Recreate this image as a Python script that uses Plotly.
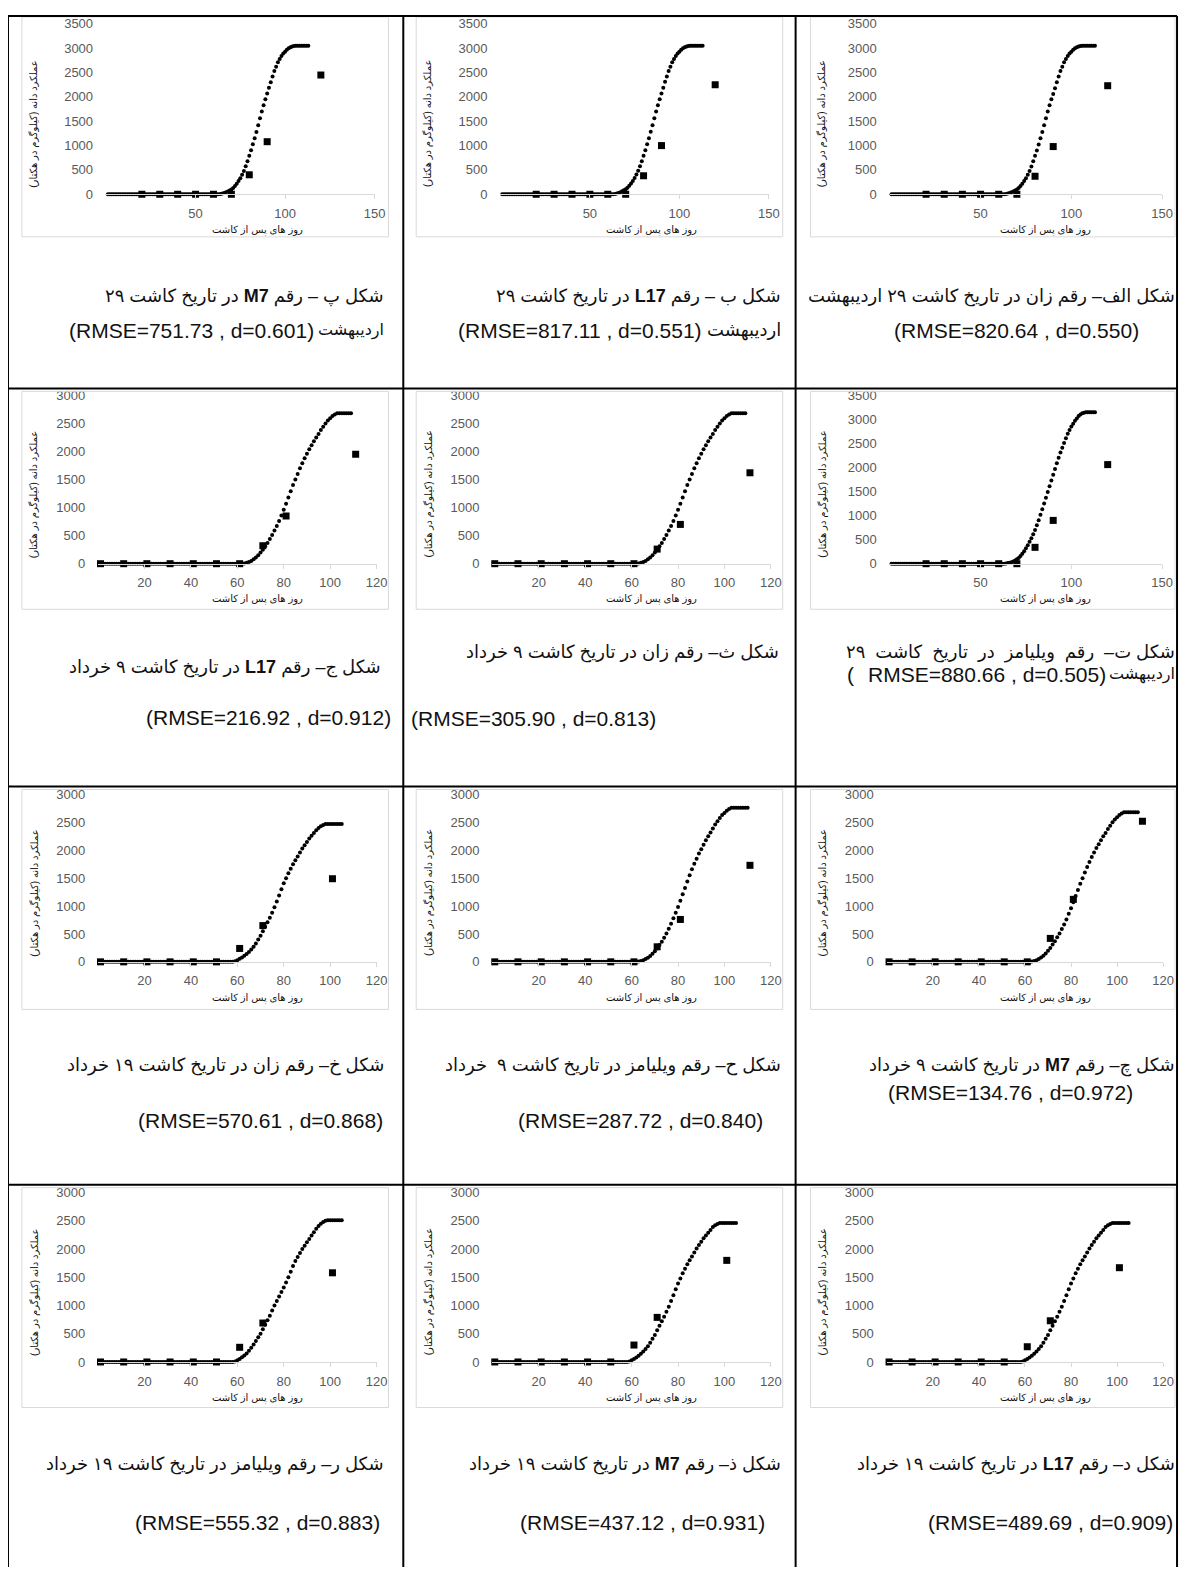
import plotly.graph_objects as go

# ---------------- data ----------------
days_obs_29ord = [20, 30, 40, 50, 60, 70, 80, 90, 120]
days_obs_9kh = [1, 11, 21, 31, 41, 51, 61, 71, 81, 111]
days_obs_19kh = [1, 11, 21, 31, 41, 51, 61, 71, 101]

obs_alef = [0, 0, 0, 0, 0, 0, 370, 980, 2230]
obs_be = [0, 0, 0, 0, 0, 0, 380, 1000, 2250]
obs_pe = [0, 0, 0, 0, 0, 0, 400, 1080, 2450]
obs_te = [0, 0, 0, 0, 0, 0, 340, 900, 2060]
obs_se = [0, 0, 0, 0, 0, 0, 0, 260, 700, 1620]
obs_jim = [0, 0, 0, 0, 0, 0, 0, 320, 850, 1950]
obs_che = [0, 0, 0, 0, 0, 0, 0, 420, 1120, 2520]
obs_he = [0, 0, 0, 0, 0, 0, 0, 270, 760, 1730]
obs_khe = [0, 0, 0, 0, 0, 0, 240, 650, 1490]
obs_dal = [0, 0, 0, 0, 0, 0, 270, 730, 1670]
obs_zal = [0, 0, 0, 0, 0, 0, 300, 790, 1800]
obs_re = [0, 0, 0, 0, 0, 0, 260, 690, 1580]

# simulated grain yield, one value per day from day 1
sim_alef = [0] * 62 + [0, 5, 15, 25, 40, 55, 75, 100, 130, 170, 215, 270, 330, 400, 480, 570, 680, 790, 900, 1020,
                       1150, 1280, 1420, 1560, 1700, 1830, 1950, 2060, 2180, 2300, 2420, 2530, 2620, 2710, 2780, 2840,
                       2890, 2930, 2970, 3000, 3020, 3035, 3045, 3050, 3050, 3050, 3050, 3050, 3050, 3050, 3050]
sim_be = [0] * 62 + [0, 5, 15, 25, 40, 60, 80, 105, 135, 175, 220, 275, 335, 405, 485, 575, 680, 790, 905, 1025,
                     1150, 1285, 1420, 1560, 1700, 1830, 1950, 2070, 2190, 2310, 2420, 2530, 2620, 2710, 2780, 2840,
                     2890, 2930, 2970, 3000, 3020, 3035, 3045, 3050, 3050, 3050, 3050, 3050, 3050, 3050, 3050]
sim_pe = [0] * 62 + [0, 5, 15, 25, 40, 55, 75, 100, 130, 170, 215, 270, 330, 400, 480, 575, 680, 790, 905, 1025,
                     1150, 1280, 1420, 1560, 1700, 1830, 1950, 2070, 2190, 2300, 2420, 2530, 2620, 2710, 2780, 2840,
                     2890, 2930, 2970, 3000, 3020, 3035, 3045, 3050, 3050, 3050, 3050, 3050, 3050, 3050, 3050]
sim_te = [0] * 62 + [0, 5, 12, 20, 30, 45, 65, 90, 120, 160, 205, 260, 320, 385, 455, 530, 610, 700, 800, 905,
                     1015, 1130, 1250, 1370, 1490, 1610, 1730, 1850, 1970, 2090, 2200, 2310, 2410, 2510, 2610, 2700,
                     2780, 2850, 2910, 2970, 3020, 3070, 3100, 3125, 3140, 3150, 3150, 3150, 3150, 3150, 3150]
sim_se = [0] * 61 + [0, 5, 15, 30, 50, 80, 110, 150, 200, 250, 310, 370, 440, 510, 590, 670, 760, 860, 960, 1070,
                     1180, 1290, 1400, 1500, 1600, 1700, 1790, 1880, 1960, 2040, 2110, 2180, 2250, 2310, 2380, 2440,
                     2500, 2550, 2590, 2630, 2660, 2680, 2680, 2680, 2680, 2680, 2680, 2680]
sim_jim = [0] * 61 + [0, 5, 15, 30, 50, 80, 110, 150, 200, 250, 310, 370, 440, 510, 590, 670, 760, 860, 960, 1070,
                      1180, 1290, 1400, 1500, 1600, 1700, 1790, 1880, 1960, 2040, 2110, 2180, 2250, 2310, 2380, 2440,
                      2500, 2550, 2590, 2630, 2660, 2680, 2680, 2680, 2680, 2680, 2680, 2680]
sim_che = [0] * 61 + [0, 5, 15, 30, 50, 80, 110, 150, 200, 250, 310, 370, 440, 510, 590, 670, 760, 860, 960, 1070,
                      1180, 1290, 1400, 1500, 1600, 1700, 1790, 1880, 1960, 2040, 2110, 2180, 2250, 2310, 2380, 2440,
                      2500, 2550, 2590, 2630, 2660, 2680, 2680, 2680, 2680, 2680, 2680, 2680]
sim_he = [0] * 61 + [0, 5, 15, 30, 50, 75, 105, 145, 190, 240, 300, 360, 430, 510, 595, 685, 780, 880, 985, 1095,
                     1210, 1325, 1440, 1550, 1660, 1760, 1850, 1940, 2020, 2100, 2180, 2250, 2320, 2390, 2460, 2520,
                     2580, 2630, 2670, 2710, 2740, 2760, 2760, 2760, 2760, 2760, 2760, 2760, 2760]
sim_khe = [0] * 57 + [0, 10, 30, 55, 80, 110, 140, 176, 220, 270, 330, 400, 470, 550, 630, 710, 790, 880, 980, 1080,
                      1190, 1300, 1410, 1500, 1590, 1670, 1750, 1820, 1890, 1960, 2030, 2090, 2150, 2210, 2260, 2310,
                      2360, 2400, 2430, 2455, 2470, 2470, 2470, 2470, 2470, 2470, 2470, 2470]
sim_dal = [0] * 57 + [0, 10, 30, 55, 80, 110, 145, 185, 230, 280, 340, 410, 480, 560, 640, 720, 800, 890, 980, 1080,
                      1180, 1290, 1390, 1480, 1570, 1650, 1730, 1800, 1870, 1940, 2010, 2070, 2130, 2190, 2240, 2290,
                      2340, 2390, 2420, 2445, 2460, 2460, 2460, 2460, 2460, 2460, 2460, 2460]
sim_zal = [0] * 57 + [0, 10, 30, 55, 80, 110, 145, 185, 230, 280, 340, 410, 480, 560, 640, 720, 800, 890, 980, 1080,
                      1180, 1290, 1390, 1480, 1570, 1650, 1730, 1800, 1870, 1940, 2010, 2070, 2130, 2190, 2240, 2290,
                      2340, 2390, 2420, 2445, 2460, 2460, 2460, 2460, 2460, 2460, 2460, 2460]
sim_re = [0] * 57 + [0, 10, 30, 55, 85, 115, 150, 200, 250, 310, 370, 440, 500, 580, 660, 740, 820, 910, 1000, 1080,
                     1160, 1240, 1320, 1410, 1500, 1600, 1700, 1790, 1860, 1930, 2000, 2060, 2120, 2180, 2240, 2300,
                     2360, 2410, 2450, 2480, 2500, 2510, 2510, 2510, 2510, 2510, 2510, 2510]

ticks_150 = [50, 100, 150]
ticks_120 = [20, 40, 60, 80, 100, 120]
y_title = "عملکرد دانه (کیلوگرم در هکتار)"
x_title = "روز های پس از کاشت"

NB = "\u00a0"
# caption texts
cap_alef = ["شکل الف– رقم زان در تاریخ کاشت ۲۹ اردیبهشت", "(RMSE=820.64 , d=0.550)"]
cap_be = ["شکل ب – رقم <b>L17</b> در تاریخ کاشت ۲۹", "اردیبهشت", "(RMSE=817.11 , d=0.551)"]
cap_pe = ["شکل پ – رقم <b>M7</b> در تاریخ کاشت ۲۹", "اردیبهشت", "(RMSE=751.73 , d=0.601)"]
cap_te = [NB.join(["شکل", "ت–", NB + "رقم", NB + "ویلیامز", NB + "در", NB + "تاریخ", NB + "کاشت", NB + "۲۹"]),
          "اردیبهشت", "(", "RMSE=880.66 , d=0.505)"]
cap_se = ["شکل ث– رقم زان در تاریخ کاشت ۹ خرداد", "(RMSE=305.90 , d=0.813)"]
cap_jim = ["شکل ج– رقم <b>L17</b> در تاریخ کاشت ۹ خرداد", "(RMSE=216.92 , d=0.912)"]
cap_che = ["شکل چ– رقم <b>M7</b> در تاریخ کاشت ۹ خرداد", "(RMSE=134.76 , d=0.972)"]
cap_he = ["شکل ح– رقم ویلیامز در تاریخ کاشت ۹" + NB + " خرداد", "(RMSE=287.72 , d=0.840)"]
cap_khe = ["شکل خ– رقم زان در تاریخ کاشت ۱۹ خرداد", "(RMSE=570.61 , d=0.868)"]
cap_dal = ["شکل د– رقم <b>L17</b> در تاریخ کاشت ۱۹ خرداد", "(RMSE=489.69 , d=0.909)"]
cap_zal = ["شکل ذ– رقم <b>M7</b> در تاریخ کاشت ۱۹ خرداد", "(RMSE=437.12 , d=0.931)"]
cap_re = ["شکل ر– رقم ویلیامز در تاریخ کاشت ۱۹ خرداد", "(RMSE=555.32 , d=0.883)"]

# ---------------- layout geometry (page pixels) ----------------
PAGE_W, PAGE_H = 1192, 1575
OFF = 8                      # default body margin of the html page
W, H = PAGE_W - OFF, PAGE_H - OFF
ROW_PLOT_Y = [(17, 189), (392, 562), (795, 964), (1197, 1368)]
ROW_AREA_Y = [(10, 232), (388, 608), (790, 1012), (1192, 1414)]
COL_AREA_X = {"L": (22, 392), "M": (420, 790), "R": (818, 1186)}
COL_PLOT_X = {150: {"L": (107, 378), "M": (505, 776), "R": (898, 1173)},
              120: {"L": (99, 380), "M": (497, 778), "R": (895, 1174)}}
V_LINES = [8, 407, 803, 1188]
H_LINES = [9, 385, 787, 1189]

FA = "Liberation Sans, DejaVu Sans"
EN = "Liberation Sans"
FA_SIZE = 18
EN_SIZE = 21
TICK_SIZE = 13


def rtl(s):
    return "\u202b" + s + "\u202c"


# caption items: (text, x, y, xanchor, rtl?, size)
charts = [
    dict(col="R", row=0, xmax=150, ymax=3500, sim=sim_alef, od=days_obs_29ord, ob=obs_alef,
         cap=[(cap_alef[0], 1188, 292, "right", True, FA_SIZE),
              (cap_alef[1], 1026, 327, "center", False, EN_SIZE)]),
    dict(col="M", row=0, xmax=150, ymax=3500, sim=sim_be, od=days_obs_29ord, ob=obs_be,
         cap=[(cap_be[0], 790, 292, "right", True, FA_SIZE), (cap_be[1], 790, 327, "right", True, FA_SIZE),
              (cap_be[2], 460, 327, "left", False, EN_SIZE)]),
    dict(col="L", row=0, xmax=150, ymax=3500, sim=sim_pe, od=days_obs_29ord, ob=obs_pe,
         cap=[(cap_pe[0], 390, 292, "right", True, FA_SIZE), (cap_pe[1], 390, 327, "right", True, 16),
              (cap_pe[2], 68, 327, "left", False, EN_SIZE)]),
    dict(col="R", row=1, xmax=150, ymax=3500, sim=sim_te, od=days_obs_29ord, ob=obs_te,
         cap=[(cap_te[0], 1188, 652, "right", True, FA_SIZE), (cap_te[1], 1188, 674, "right", True, 16),
              (cap_te[2], 853, 674, "left", False, EN_SIZE), (cap_te[3], 1118, 674, "right", False, EN_SIZE)]),
    dict(col="M", row=1, xmax=120, ymax=3000, sim=sim_se, od=days_obs_9kh, ob=obs_se,
         cap=[(cap_se[0], 788, 652, "right", True, FA_SIZE), (cap_se[1], 413, 718, "left", False, EN_SIZE)]),
    dict(col="L", row=1, xmax=120, ymax=3000, sim=sim_jim, od=days_obs_9kh, ob=obs_jim,
         cap=[(cap_jim[0], 387, 667, "right", True, FA_SIZE), (cap_jim[1], 397, 717, "right", False, EN_SIZE)]),
    dict(col="R", row=2, xmax=120, ymax=3000, sim=sim_che, od=days_obs_9kh, ob=obs_che,
         cap=[(cap_che[0], 1188, 1069, "right", True, FA_SIZE),
              (cap_che[1], 1020, 1096, "center", False, EN_SIZE)]),
    dict(col="M", row=2, xmax=120, ymax=3000, sim=sim_he, od=days_obs_9kh, ob=obs_he,
         cap=[(cap_he[0], 790, 1069, "right", True, FA_SIZE), (cap_he[1], 646, 1124, "center", False, EN_SIZE)]),
    dict(col="L", row=2, xmax=120, ymax=3000, sim=sim_khe, od=days_obs_19kh, ob=obs_khe,
         cap=[(cap_khe[0], 390, 1069, "right", True, FA_SIZE), (cap_khe[1], 263, 1124, "center", False, EN_SIZE)]),
    dict(col="R", row=3, xmax=120, ymax=3000, sim=sim_dal, od=days_obs_19kh, ob=obs_dal,
         cap=[(cap_dal[0], 1188, 1472, "right", True, FA_SIZE), (cap_dal[1], 1186, 1530, "right", False, EN_SIZE)]),
    dict(col="M", row=3, xmax=120, ymax=3000, sim=sim_zal, od=days_obs_19kh, ob=obs_zal,
         cap=[(cap_zal[0], 790, 1472, "right", True, FA_SIZE), (cap_zal[1], 648, 1530, "center", False, EN_SIZE)]),
    dict(col="L", row=3, xmax=120, ymax=3000, sim=sim_re, od=days_obs_19kh, ob=obs_re,
         cap=[(cap_re[0], 390, 1472, "right", True, FA_SIZE), (cap_re[1], 260, 1530, "center", False, EN_SIZE)]),
]


def px(x):
    return (x - OFF) / W


def py(y):
    return 1 - (y - OFF) / H


fig = go.Figure()
layout = {}
annotations = []
shapes = []

for i, c in enumerate(charts, start=1):
    sfx = "" if i == 1 else str(i)
    xa, ya = "x" + sfx, "y" + sfx
    days = list(range(1, len(c["sim"]) + 1))
    fig.add_trace(go.Scatter(x=days, y=c["sim"], mode="markers", xaxis=xa, yaxis=ya,
                             marker=dict(size=4, color="black", symbol="circle"),
                             cliponaxis=False, showlegend=False, hoverinfo="skip"))
    fig.add_trace(go.Scatter(x=c["od"], y=c["ob"], mode="markers", xaxis=xa, yaxis=ya,
                             marker=dict(size=7, color="black", symbol="square"),
                             cliponaxis=False, showlegend=False, hoverinfo="skip"))
    x0, x1 = COL_PLOT_X[c["xmax"]][c["col"]]
    y0, y1 = ROW_PLOT_Y[c["row"]]
    ax0, ax1 = COL_AREA_X[c["col"]]
    ay0, ay1 = ROW_AREA_Y[c["row"]]
    layout["xaxis" + sfx] = dict(domain=[px(x0), px(x1)], range=[0, c["xmax"]], anchor=ya,
                                 tickvals=ticks_150 if c["xmax"] == 150 else ticks_120,
                                 showgrid=False, zeroline=False, showline=True, linecolor="#D9D9D9",
                                 linewidth=1, ticks="outside", ticklen=4, tickcolor="#D9D9D9",
                                 ticklabelstandoff=3,
                                 tickfont=dict(family=EN, size=TICK_SIZE, color="#595959"), fixedrange=True)
    layout["yaxis" + sfx] = dict(domain=[py(y1), py(y0)], range=[0, c["ymax"]], anchor=xa,
                                 dtick=500, tick0=0, showgrid=False, zeroline=False, showline=False,
                                 ticks="", ticklabelstandoff=12,
                                 tickfont=dict(family=EN, size=TICK_SIZE, color="#595959"), fixedrange=True)
    # chart area border
    shapes.append(dict(type="rect", xref="paper", yref="paper", x0=px(ax0), x1=px(ax1),
                       y0=py(ay1), y1=py(ay0), line=dict(color="#D9D9D9", width=1)))
    # axis titles
    annotations.append(dict(text=rtl(x_title), xref="paper", yref="paper",
                            x=px((ax0 + ax1) / 2 + 53), y=py(y1 + 36), showarrow=False,
                            xanchor="center", yanchor="middle",
                            font=dict(family=FA, size=10, color="#111111")))
    annotations.append(dict(text=rtl(y_title), xref="paper", yref="paper",
                            x=px(ax0 + 12), y=py((y0 + y1) / 2 + 15), showarrow=False,
                            textangle=-90, xanchor="center", yanchor="middle",
                            font=dict(family=FA, size=10, color="#111111")))
    for text, tx, ty, anchor, is_rtl, size in c["cap"]:
        annotations.append(dict(text=rtl(text) if is_rtl else text, xref="paper", yref="paper",
                                x=px(tx), y=py(ty), showarrow=False, xanchor=anchor, yanchor="middle",
                                font=dict(family=FA if is_rtl else EN, size=size, color="#111111")))

# table grid
for vx in V_LINES:
    shapes.append(dict(type="line", xref="paper", yref="paper", x0=px(vx), x1=px(vx),
                       y0=py(H_LINES[0]), y1=0, line=dict(color="black", width=2)))
for hy in H_LINES:
    shapes.append(dict(type="line", xref="paper", yref="paper", x0=px(V_LINES[0]), x1=px(V_LINES[-1]),
                       y0=py(hy), y1=py(hy), line=dict(color="black", width=2)))

fig.update_layout(width=W, height=H, margin=dict(l=0, r=0, t=0, b=0),
                  paper_bgcolor="white", plot_bgcolor="white",
                  annotations=annotations, shapes=shapes, **layout)

fig.write_html("out.html")
